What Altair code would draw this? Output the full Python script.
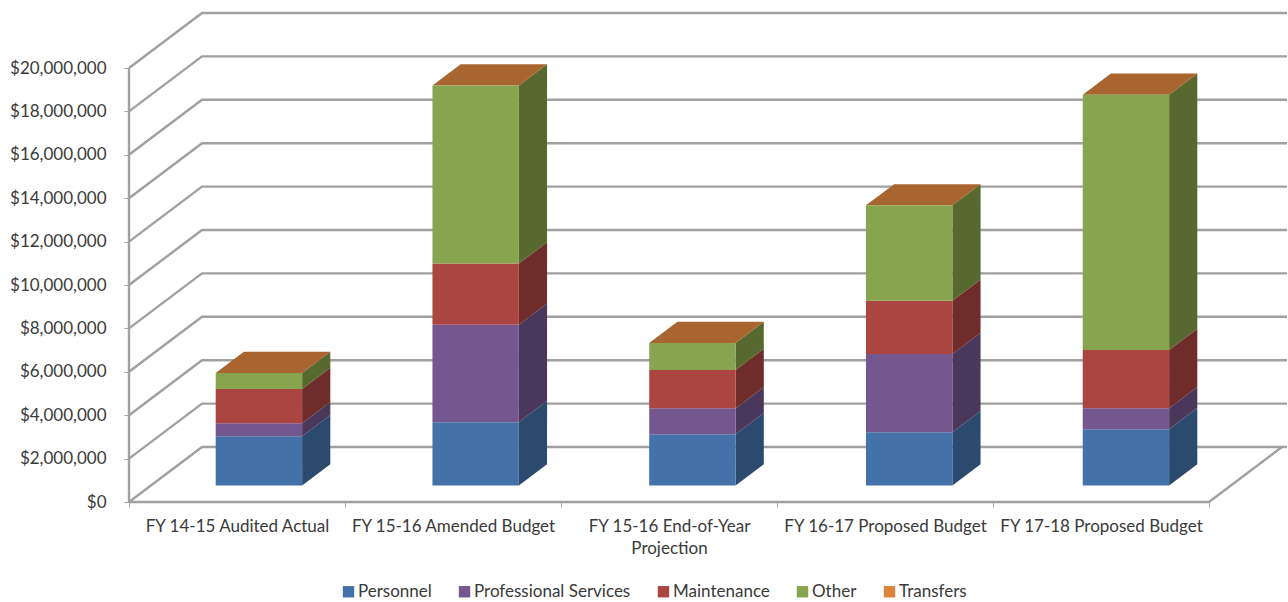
import json
import altair as alt
import pandas as pd

# Budget by fiscal year, in dollars
categories = [
    "FY 14-15 Audited Actual",
    "FY 15-16 Amended Budget",
    "FY 15-16 End-of-Year\nProjection",
    "FY 16-17 Proposed Budget",
    "FY 17-18 Proposed Budget",
]
series_names = ["Personnel", "Professional Services", "Maintenance", "Other", "Transfers"]
personnel = [2270000, 2920000, 2360000, 2450000, 2590000]
professional = [600000, 4490000, 1200000, 3610000, 970000]
maintenance = [1580000, 2820000, 1760000, 2450000, 2690000]
other = [730000, 8200000, 1250000, 4400000, 11760000]
transfers = [0, 0, 0, 0, 0]
series_values = [personnel, professional, maintenance, other, transfers]

front_colors = ["#4472A8", "#73578E", "#AB4542", "#88A44E", "#DB843D"]
side_colors = ["#2C4A6E", "#4A385C", "#6E2C2A", "#58692F", "#8F5628"]
top_color = "#A9652F"
grid_color = "#A0A0A0"
text_color = "#3A3A3A"
font = "Lato"
font_size = 17

tick_values = list(range(0, 20000001, 2000000))

# Oblique projection: how far the back wall sits from the front plane
DEPTH_X = 0.338      # in category slots
DEPTH_Y = 2534000    # in dollars
BAR_WIDTH = 0.4
BAR_STEP = 1.0035    # bars sit on a marginally wider pitch than the floor ticks
BAR_T0, BAR_T1 = 0.3, 0.686
X_MAX = 1158 / 216
Y_MAX = 492 / 21.7 * 1e6


def project(x, v, t):
    return x + t * DEPTH_X, v + t * DEPTH_Y


# Wall gridlines, floor and the front axis line
grid_rows = []
for k, v in enumerate(tick_values):
    for p, (x, t) in enumerate([(0, 0), (0, 1), (X_MAX - DEPTH_X, 1)]):
        px, py = project(x, v, t)
        grid_rows.append({"line": f"g{k}", "p": p, "x": px, "y": py})
n_slots = len(categories)
for p, (x, t) in enumerate([(0, 0), (n_slots, 0), (n_slots, 1)]):
    px, py = project(x, 0, t)
    grid_rows.append({"line": "floor", "p": p, "x": px, "y": py})
for p, v in enumerate([0, tick_values[-1]]):
    grid_rows.append({"line": "axis", "p": p, "x": 0, "y": v})

# Bar faces built from the stacked values
front_rows, side_rows, top_rows = [], [], []
for i, cat in enumerate(categories):
    x0 = i * BAR_STEP + 0.5 + BAR_T0 * DEPTH_X - BAR_WIDTH / 2
    x1 = x0 + BAR_WIDTH
    base = 0
    for s, name in enumerate(series_names):
        value = series_values[s][i]
        lo, hi = base, base + value
        base = hi
        if value > 0:
            front_rows.append({
                "series": name,
                "x": x0, "x2": x1,
                "y": BAR_T0 * DEPTH_Y + lo,
                "y2": BAR_T0 * DEPTH_Y + hi,
            })
            for t in (0, BAR_T1 - BAR_T0):
                side_rows.append({
                    "seg": f"{i}-{s}",
                    "fill": side_colors[s],
                    "x": x1 + t * DEPTH_X,
                    "y": lo + (BAR_T0 + t) * DEPTH_Y,
                    "y2": hi + (BAR_T0 + t) * DEPTH_Y,
                })
    for t in (0, BAR_T1 - BAR_T0):
        top_rows.append({
            "bar": i,
            "y": base + (BAR_T0 + t) * DEPTH_Y,
            "x": x0 + t * DEPTH_X,
            "x2": x1 + t * DEPTH_X,
        })

x_scale = alt.Scale(domain=[0, X_MAX], nice=False, zero=False)
y_scale = alt.Scale(domain=[0, Y_MAX], nice=False, zero=False)
no_x = alt.X("x:Q", scale=x_scale, axis=None)
no_y = alt.Y("y:Q", scale=y_scale, axis=None, stack=None)

grid = alt.Chart(pd.DataFrame(grid_rows)).mark_line(
    color=grid_color, strokeWidth=2.4, strokeJoin="miter"
).encode(x=no_x, y=no_y, detail="line:N", order="p:Q")

side = alt.Chart(pd.DataFrame(side_rows)).mark_area().encode(
    x=no_x, y=no_y, y2="y2:Q", detail="seg:N",
    fill=alt.Fill("fill:N", scale=None),
)

top = alt.Chart(pd.DataFrame(top_rows)).mark_area(orient="horizontal", color=top_color).encode(
    y=no_y, x=alt.X("x:Q", scale=x_scale, axis=None), x2="x2:Q", detail="bar:N",
)

front = alt.Chart(pd.DataFrame(front_rows)).mark_rect().encode(
    x=no_x, x2="x2:Q", y=no_y, y2="y2:Q",
    color=alt.Color(
        "series:N",
        scale=alt.Scale(domain=series_names, range=front_colors),
        legend=alt.Legend(
            title=None, orient="none", legendX=211, legendY=573,
            direction="horizontal", columns=5, symbolType="square",
            symbolSize=130, symbolStrokeWidth=0, columnPadding=24,
            labelFont=font, labelFontSize=font_size, labelColor=text_color, labelOffset=1,
        ),
    ),
)

# Value axis with the dollar labels, and slot ticks along the floor
y_axis = alt.Chart(pd.DataFrame({"y": tick_values})).mark_point(opacity=0).encode(
    y=alt.Y(
        "y:Q", scale=y_scale,
        axis=alt.Axis(
            title=None, orient="left", values=tick_values, format="$,.0f", grid=False,
            domain=False, tickColor=grid_color, tickSize=5, labelPadding=18,
            labelFont=font, labelFontSize=font_size, labelColor=text_color,
        ),
    ),
    x=alt.value(0),
)

slot_ticks = list(range(n_slots + 1))
x_ticks = alt.Chart(pd.DataFrame({"x": slot_ticks})).mark_point(opacity=0).encode(
    x=alt.X(
        "x:Q", scale=x_scale,
        axis=alt.Axis(
            title=None, orient="bottom", values=slot_ticks, labels=False, grid=False,
            domain=False, tickColor=grid_color, tickSize=5,
        ),
    ),
    y=alt.value(492),
)

label_centres = [i + 0.5 for i in range(n_slots)]
label_expr = f"split({json.dumps(categories)}[floor(datum.value)], '\\n')"
x_labels = alt.Chart(pd.DataFrame({"x": label_centres})).mark_point(opacity=0).encode(
    x=alt.X(
        "x:Q", scale=x_scale,
        axis=alt.Axis(
            title=None, orient="bottom", values=label_centres, grid=False, domain=False,
            ticks=False, labelExpr=label_expr, labelOverlap=False, labelBound=False,
            labelFlush=False, labelLimit=400, labelPadding=16, labelLineHeight=22,
            labelBaseline="top", labelFont=font, labelFontSize=font_size,
            labelColor=text_color,
        ),
    ),
    y=alt.value(492),
)

chart = alt.layer(y_axis, x_ticks, x_labels, grid, side, top, front).resolve_axis(
    x="independent", y="independent"
).properties(
    width=1158, height=492,
    padding={"left": 129, "top": 10, "right": 1, "bottom": 100},
    autosize=alt.AutoSizeParams(type="none"),
    background="white",
).configure_view(strokeWidth=0)

chart.save("out.html", embed_options={"renderer": "svg", "actions": False})
